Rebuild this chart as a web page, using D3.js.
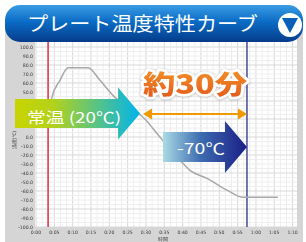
<!DOCTYPE html>
<meta charset="utf-8">
<style>
body { margin: 0; background: #fff; }
svg { display: block; }
.tick-label { font: 4.6px "DejaVu Sans", sans-serif; fill: #3a3a3a; }
</style>
<script src="https://cdn.jsdelivr.net/npm/d3@7"></script>
<body>
<svg width="306" height="242"></svg>
<script>
// --- data ---
var title = "プレート温度特性カーブ";
var xTicks = ["0:00","0:05","0:10","0:15","0:20","0:25","0:30","0:35","0:40","0:45","0:50","0:55","1:00","1:05","1:10"];
var yTicks = [-100,-90,-80,-70,-60,-50,-40,-30,-20,-10,0,10,20,30,40,50,60,70,80,90,100];
// plate temperature curve (x in tick units, y in degrees)
var curveX = [0.66, 0.87, 1.31, 1.75, 2.84, 3.49, 4.31, 5.13, 5.84, 6.76, 7.86, 8.40, 9.33, 10.42, 11.29, 11.51, 13.2];
var curveY = [13, 44, 63, 77, 77, 63, 44, 32, 22, 0, -26, -37, -46, -59, -67, -67, -67];
var startX = 0.66;   // red line
var endX = 11.51;    // navy line
var roomLabel = "常温 (20℃)";
var coldLabel = "-70℃";
var durationLabel = "約30分";

var svg = d3.select("svg");
var defs = svg.append("defs");

function grad(id, stops, vertical) {
  var g = defs.append("linearGradient").attr("id", id)
    .attr("x1", 0).attr("y1", 0).attr("x2", vertical ? 0 : 1).attr("y2", vertical ? 1 : 0);
  stops.forEach(function(s) { g.append("stop").attr("offset", s[0]).attr("stop-color", s[1]); });
}
grad("barGrad", [[0, "#3a9be4"], [0.45, "#0b6cc6"], [1, "#053b8a"]], true);
grad("roomGrad", [[0, "#c8d400"], [0.3, "#b4d21a"], [1, "#00b4ec"]], false);
grad("coldGrad", [[0, "#a9dbe6"], [0.45, "#3d6bb0"], [1, "#1a1e86"]], false);
grad("orangeGrad", [[0, "#f59a2a"], [1, "#e2561c"]], true);

defs.append("filter").attr("id", "blur").append("feGaussianBlur").attr("stdDeviation", 0.6);
var sh = defs.append("filter").attr("id", "shadow").attr("x", "-20%").attr("y", "-30%").attr("width", "140%").attr("height", "160%");
sh.append("feDropShadow").attr("dx", 0).attr("dy", 0.5).attr("stdDeviation", 1.2).attr("flood-color", "#888").attr("flood-opacity", 0.7);

// background panel
svg.append("rect").attr("x", 5).attr("y", 28).attr("width", 298).attr("height", 214).attr("fill", "#d5d5d5");

var x = d3.scaleLinear().domain([0, 14]).range([36, 292.6]);
var y = d3.scaleLinear().domain([-100, 100]).range([227, 47]);

// plot area
svg.append("rect").attr("x", 35).attr("y", 38).attr("width", 262).attr("height", 189).attr("fill", "#fff");

var grid = svg.append("g");
d3.range(0, 14.01, 1 / 3).forEach(function(v, i) {
  grid.append("line").attr("x1", x(v)).attr("x2", x(v)).attr("y1", 38).attr("y2", 227)
    .attr("stroke", i % 3 === 0 ? "#d9d9d9" : "#eeeeee").attr("stroke-width", 1);
});
d3.range(-100, 100.01, 5).forEach(function(v, i) {
  grid.append("line").attr("x1", 35).attr("x2", 297).attr("y1", y(v)).attr("y2", y(v))
    .attr("stroke", i % 4 === 0 ? "#d9d9d9" : "#eeeeee").attr("stroke-width", 1);
});

// block arrow geometry (room temperature label)
var roomTipX = x(curveX[8]) - 3, roomY = 113.5, roomBodyH = 29;

// tick labels (tiny, soft); the ones under the room arrow are hidden in the original
var labels = svg.append("g").attr("filter", "url(#blur)");
yTicks.forEach(function(v) {
  if (Math.abs(y(v) - roomY) < roomBodyH / 2 + 2) return;
  labels.append("text").attr("class", "tick-label").attr("x", 33).attr("y", y(v) + 1.8)
    .attr("text-anchor", "end").text(v.toFixed(1));
});
xTicks.forEach(function(t, i) {
  labels.append("text").attr("class", "tick-label").attr("x", x(i)).attr("y", 234)
    .attr("text-anchor", "middle").text(t);
});
labels.append("text").attr("class", "tick-label").attr("transform", "translate(16,140) rotate(-90)")
  .attr("text-anchor", "middle").text("温度(℃)");
labels.append("text").attr("class", "tick-label").attr("x", 163).attr("y", 240.5)
  .attr("text-anchor", "middle").text("時間");

// marker lines
svg.append("line").attr("x1", x(startX)).attr("x2", x(startX)).attr("y1", 38).attr("y2", 227)
  .attr("stroke", "#e8384a").attr("stroke-width", 1.6);
svg.append("line").attr("x1", x(endX)).attr("x2", x(endX)).attr("y1", 38).attr("y2", 227)
  .attr("stroke", "#2a2a8a").attr("stroke-width", 1.3);

// curve
var pts = curveX.map(function(v, i) { return [v, curveY[i]]; });
svg.append("path").datum(pts)
  .attr("d", d3.line().x(function(d) { return x(d[0]); }).y(function(d) { return y(d[1]); }).curve(d3.curveMonotoneX))
  .attr("fill", "none").attr("stroke", "#a8a8a8").attr("stroke-width", 1.5);

// title bar
svg.append("rect").attr("x", 5).attr("y", 5).attr("width", 298).attr("height", 37).attr("rx", 15)
  .attr("fill", "url(#barGrad)");
svg.append("text").attr("x", 27).attr("y", 31).attr("fill", "#fff")
  .attr("font-family", "'Noto Sans CJK JP', sans-serif").attr("font-size", 19)
  .attr("textLength", 231).attr("lengthAdjust", "spacingAndGlyphs").text(title);
svg.append("circle").attr("cx", 290).attr("cy", 25).attr("r", 12).attr("fill", "#fff");
svg.append("path").attr("d", "M282,18 L298,18 L290,33 Z").attr("fill", "#0a5fb8");

// block arrows
function blockArrow(x0, tipX, cy, bodyH, headH, headL, fill) {
  var xb = tipX - headL;
  var d = "M" + x0 + "," + (cy - bodyH / 2) + "L" + xb + "," + (cy - bodyH / 2) + "L" + xb + "," + (cy - headH / 2) +
    "L" + tipX + "," + cy + "L" + xb + "," + (cy + headH / 2) + "L" + xb + "," + (cy + bodyH / 2) +
    "L" + x0 + "," + (cy + bodyH / 2) + "Z";
  svg.append("path").attr("d", d).attr("fill", fill);
}
blockArrow(15, roomTipX, roomY, roomBodyH, 52, 22, "url(#roomGrad)");
svg.append("text").attr("x", 27).attr("y", 123).attr("fill", "#fff")
  .attr("font-family", "'Noto Sans CJK JP', sans-serif").attr("font-size", 15)
  .attr("textLength", 94).attr("lengthAdjust", "spacingAndGlyphs").text(roomLabel);

var coldY = 147;
blockArrow(163, x(endX), coldY, 30, 52, 22, "url(#coldGrad)");
svg.append("text").attr("x", 177).attr("y", 154).attr("fill", "#fff")
  .attr("font-family", "'Noto Sans CJK JP', sans-serif").attr("font-size", 15)
  .attr("textLength", 48).attr("lengthAdjust", "spacingAndGlyphs").text(coldLabel);

// duration double arrow
var ax0 = x(curveX[8]), ax1 = x(endX), ay = 114;
svg.append("line").attr("x1", ax0 + 6).attr("x2", ax1 - 6).attr("y1", ay).attr("y2", ay)
  .attr("stroke", "#f09a00").attr("stroke-width", 2);
svg.append("path").attr("d", "M" + ax0 + "," + ay + "l9,-5.5l0,11Z").attr("fill", "#f09a00");
svg.append("path").attr("d", "M" + ax1 + "," + ay + "l-9,-5.5l0,11Z").attr("fill", "#f09a00");

svg.append("text").attr("x", ax0).attr("y", 94)
  .attr("font-family", "'Noto Sans CJK JP', sans-serif").attr("font-weight", 900).attr("font-size", 26)
  .attr("textLength", ax1 - ax0).attr("lengthAdjust", "spacingAndGlyphs")
  .attr("fill", "url(#orangeGrad)").attr("stroke", "#fff").attr("stroke-width", 5)
  .attr("stroke-linejoin", "round").attr("paint-order", "stroke").attr("filter", "url(#shadow)")
  .text(durationLabel);
</script>
</body>
